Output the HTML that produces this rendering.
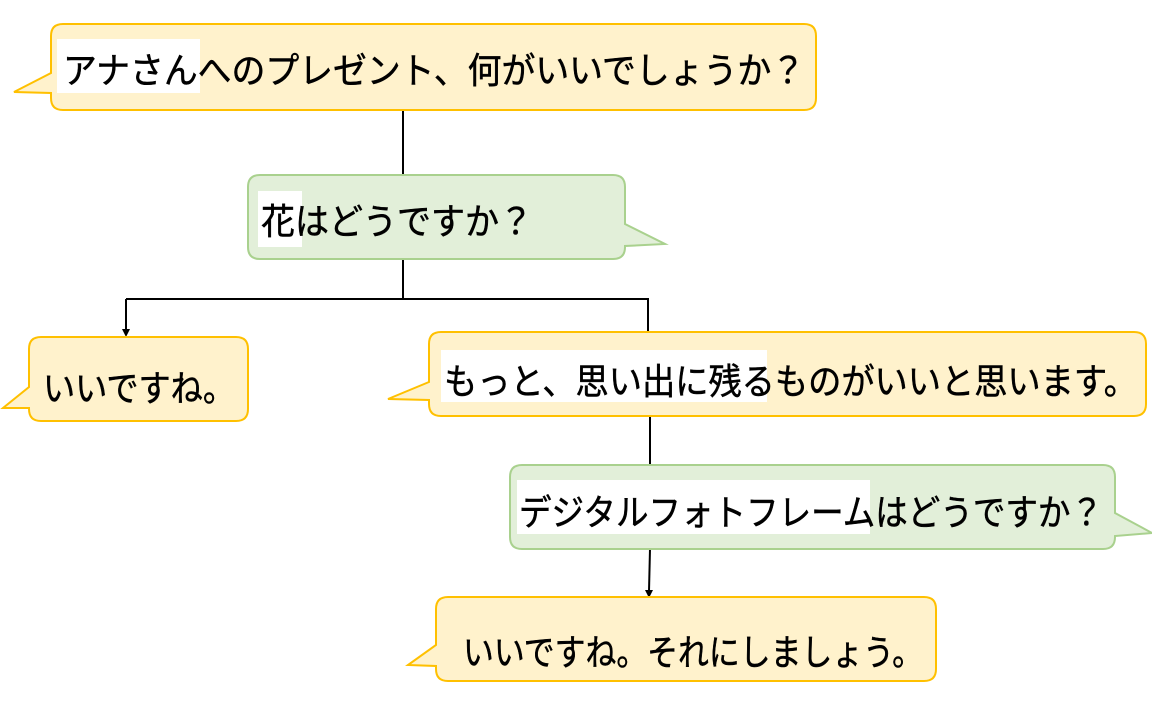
<!DOCTYPE html>
<html><head><meta charset="utf-8"><style>
html,body{margin:0;padding:0;background:#fff;}
svg{display:block}
text{font-family:"Liberation Sans","Noto Sans CJK JP",sans-serif;font-size:36px;fill:#000;stroke:#000;stroke-width:0.5;}
</style></head><body>
<svg width="1152" height="713" viewBox="0 0 1152 713" xmlns="http://www.w3.org/2000/svg">
<g stroke="#000" stroke-width="2" fill="none">
<line x1="403" y1="110" x2="403" y2="175"/>
<line x1="403" y1="259" x2="403" y2="299"/>
<line x1="126" y1="299" x2="649" y2="299"/>
<line x1="126" y1="299" x2="126" y2="330"/>
<line x1="648" y1="299" x2="648" y2="333"/>
<line x1="650" y1="416" x2="650" y2="465"/>
<line x1="650" y1="549" x2="649" y2="591"/>
</g>
<path d="M122,329 L130,329 L126,337 Z" fill="#000"/>
<path d="M645,590 L653,590 L649,598 Z" fill="#000"/>

<path d="M63,24 H804 Q816,24 816,36 V98 Q816,110 804,110 H63 Q51,110 51,98 V93 L14,92 L51,73 V36 Q51,24 63,24 Z" fill="#fff2cc" stroke="#ffc000" stroke-width="2"/>
<rect x="57" y="39" width="143" height="54" fill="#fff"/>
<text x="63" y="83" textLength="742" lengthAdjust="spacingAndGlyphs">アナさんへのプレゼント、何がいいでしょうか？</text>

<path d="M260,175 H613 Q625,175 625,187 V224 L665,244 L625,246 V247 Q625,259 613,259 H260 Q248,259 248,247 V187 Q248,175 260,175 Z" fill="#e2efd9" stroke="#a9d18e" stroke-width="2"/>
<rect x="258" y="191" width="44" height="56" fill="#fff"/>
<text x="261" y="234" textLength="272" lengthAdjust="spacingAndGlyphs">花はどうですか？</text>

<path d="M41,337 H236 Q248,337 248,349 V409 Q248,421 236,421 H41 Q29,421 29,409 V408 L3,408 L29,387 V349 Q29,337 41,337 Z" fill="#fff2cc" stroke="#ffc000" stroke-width="2"/>
<text x="43" y="401" textLength="192" lengthAdjust="spacingAndGlyphs">いいですね。</text>

<path d="M441,332 H1134 Q1146,332 1146,344 V404 Q1146,416 1134,416 H441 Q429,416 429,404 V400 L388,399 L429,382 V344 Q429,332 441,332 Z" fill="#fff2cc" stroke="#ffc000" stroke-width="2"/>
<rect x="441" y="350" width="326" height="52" fill="#fff"/>
<text x="444" y="394" textLength="693" lengthAdjust="spacingAndGlyphs">もっと、思い出に残るものがいいと思います。</text>

<path d="M522,465 H1103 Q1115,465 1115,477 V513 L1152,533 L1115,536 V537 Q1115,549 1103,549 H522 Q510,549 510,537 V477 Q510,465 522,465 Z" fill="#e2efd9" stroke="#a9d18e" stroke-width="2"/>
<rect x="517" y="480" width="353" height="54" fill="#fff"/>
<text x="519" y="525" textLength="584" lengthAdjust="spacingAndGlyphs">デジタルフォトフレームはどうですか？</text>

<path d="M448,597 H924 Q936,597 936,609 V669 Q936,681 924,681 H448 Q436,681 436,669 V666 L408,665 L436,645 V609 Q436,597 448,597 Z" fill="#fff2cc" stroke="#ffc000" stroke-width="2"/>
<text x="463" y="665" textLength="460" lengthAdjust="spacingAndGlyphs">いいですね。それにしましょう。</text>
</svg>
</body></html>
